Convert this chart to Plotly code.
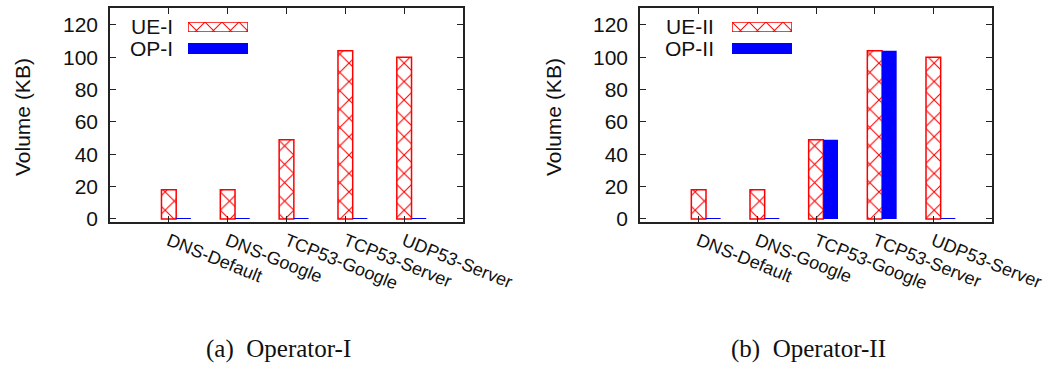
import plotly.graph_objects as go

# ---------------- data ----------------
categories = ["DNS-Default", "DNS-Google", "TCP53-Google", "TCP53-Server", "UDP53-Server"]
ue_op1 = [18, 18, 49, 104, 100]
op_op1 = [0.5, 0.5, 0.5, 0.5, 0.5]
ue_op2 = [18, 18, 49, 104, 100]
op_op2 = [0.5, 0.5, 49, 104, 0.5]
series_names_1 = ["UE-I", "OP-I"]
series_names_2 = ["UE-II", "OP-II"]
captions = ["(a)  Operator-I", "(b)  Operator-II"]
y_ticks = [0, 20, 40, 60, 80, 100, 120]
y_title = "Volume (KB)"

# ---------------- style ----------------
W, H = 1045, 366
RED = "#ff0000"
BLUE = "#0000ff"
FRAME = "#222222"
SANS = "Liberation Sans, Arial, Helvetica, sans-serif"
SERIF = "Liberation Serif, Times New Roman, serif"
positions = list(range(len(categories)))
BW = 0.25

def px(x):
    return x / W

def py(y):
    return 1 - y / H

panels = [
    dict(dom_x=(px(110), px(463)), ue=ue_op1, op=op_op1, names=series_names_1,
         ytitle_x=px(22), cap_x=px(278), leg_text_x=px(175), leg_sw=(px(188), px(248))),
    dict(dom_x=(px(640), px(992)), ue=ue_op2, op=op_op2, names=series_names_2,
         ytitle_x=px(553), cap_x=px(808), leg_text_x=px(716), leg_sw=(px(732), px(792))),
]
dom_y = (py(222), py(8))

fig = go.Figure()
annotations = []

ue_pattern = dict(shape="x", fgcolor=RED, bgcolor="white", size=13, solidity=0.16, fillmode="replace")

for i, p in enumerate(panels):
    ax = "" if i == 0 else str(i + 1)
    xa, ya = "x" + ax, "y" + ax
    fig.add_trace(go.Bar(
        x=positions, y=p["ue"], width=BW, offset=-BW / 2, xaxis=xa, yaxis=ya,
        marker=dict(color="white", pattern=ue_pattern, line=dict(color=RED, width=1.5)),
        showlegend=False, name=p["names"][0]))
    fig.add_trace(go.Bar(
        x=positions, y=p["op"], width=BW, offset=BW / 2, xaxis=xa, yaxis=ya,
        marker=dict(color=BLUE, line=dict(width=0)),
        showlegend=False, name=p["names"][1]))

    common = dict(showline=True, linecolor=FRAME, linewidth=1.5, mirror="allticks",
                  ticks="inside", tickcolor=FRAME, tickwidth=1, ticklen=6,
                  showgrid=False, zeroline=False, automargin=False)
    fig.update_layout(**{
        "xaxis" + ax: dict(domain=list(p["dom_x"]), range=[-1, 5], anchor=ya,
                           tickmode="array", tickvals=positions, ticktext=categories,
                           tickangle=22, tickfont=dict(family=SANS, size=18, color="#111"),
                           **common),
        "yaxis" + ax: dict(domain=list(dom_y), range=[-1.9, 130.5], anchor=xa,
                           tickmode="array", tickvals=y_ticks,
                           tickfont=dict(family=SANS, size=21, color="#111"),
                           ticklabelstandoff=6, **common),
    })

    annotations.append(dict(text=y_title, x=p["ytitle_x"], y=py(117), xref="paper", yref="paper",
                            textangle=-90, showarrow=False, xanchor="center", yanchor="middle",
                            font=dict(family=SANS, size=21, color="#111")))
    annotations.append(dict(text=captions[i], x=p["cap_x"], y=py(349), xref="paper", yref="paper",
                            showarrow=False, xanchor="center", yanchor="middle",
                            font=dict(family=SERIF, size=25, color="#111")))

    # legend: labels + swatches drawn as bars on small auxiliary axes
    rows = [(27, 22, 32), (48, 43, 54)]
    for k, (ty, y0, y1) in enumerate(rows):
        annotations.append(dict(text=p["names"][k], x=p["leg_text_x"], y=py(ty), xref="paper", yref="paper",
                                showarrow=False, xanchor="right", yanchor="middle",
                                font=dict(family=SANS, size=21, color="#111")))
        n = 3 + i * 2 + k
        lx, ly = "x" + str(n), "y" + str(n)
        if k == 0:
            mk = dict(color="white", pattern=dict(ue_pattern, size=12), line=dict(color=RED, width=1.5))
        else:
            mk = dict(color=BLUE, line=dict(width=0))
        fig.add_trace(go.Bar(x=[1], y=[0], orientation="h", width=1, xaxis=lx, yaxis=ly,
                             marker=mk, showlegend=False, hoverinfo="skip"))
        fig.update_layout(**{
            "xaxis" + str(n): dict(domain=[p["leg_sw"][0], p["leg_sw"][1]], range=[0, 1], visible=False,
                                   anchor=ly, fixedrange=True),
            "yaxis" + str(n): dict(domain=[py(y1), py(y0)], range=[-0.5, 0.5], visible=False,
                                   anchor=lx, fixedrange=True),
        })

fig.update_layout(
    width=W, height=H, margin=dict(l=0, r=0, t=0, b=0, pad=0, autoexpand=False),
    paper_bgcolor="white", plot_bgcolor="white", barmode="overlay",
    annotations=annotations, showlegend=False,
)

fig.write_html("out.html", config={"displayModeBar": False},
               post_script="document.body.style.margin='0';document.body.style.overflow='hidden';")
